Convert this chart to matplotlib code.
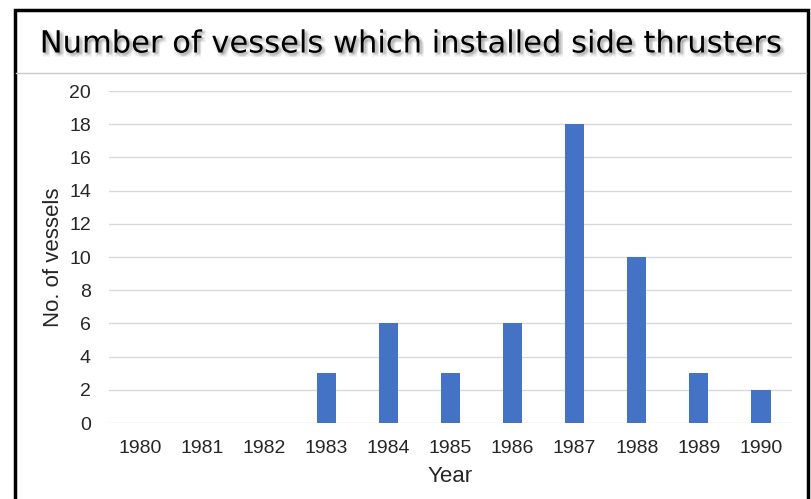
import numpy as np
import matplotlib
matplotlib.use('Agg')
import matplotlib.pyplot as plt
import matplotlib.patheffects as pe
from matplotlib.patches import Rectangle
from matplotlib.lines import Line2D

years = ['1980', '1981', '1982', '1983', '1984', '1985', '1986', '1987', '1988', '1989', '1990']
vessels = [0, 0, 0, 3, 6, 3, 6, 18, 10, 3, 2]
yticks = [0, 2, 4, 6, 8, 10, 12, 14, 16, 18, 20]

plt.rcParams['font.family'] = ['Liberation Sans', 'DejaVu Sans']

fig = plt.figure(figsize=(8.11, 4.99), dpi=100)
fig.patch.set_facecolor('white')

# frame round the whole chart
fig.patches.append(Rectangle((14.5/811, -0.05), 793/811, 1 - 9.5/499 + 0.05,
                             transform=fig.transFigure, fill=False,
                             edgecolor='black', linewidth=2.5))
# line under title
fig.lines.append(Line2D([16/811, 806/811], [1 - 73/499, 1 - 73/499],
                        transform=fig.transFigure, color='#c8c8c8', linewidth=1))

# soft glow behind the title
glow = []
for dx, dy in [(1, -1), (2, -2), (3, -3), (2, -1), (1, -2), (3, -1), (0, -3)]:
    glow.append(pe.SimplePatchShadow(offset=(dx, dy), shadow_rgbFace='#707070', alpha=0.12))
glow.append(pe.Normal())
fig.text(0.506, 1 - 44/499, 'Number of vessels which installed side thrusters',
         ha='center', va='center', fontsize=22, family='DejaVu Sans',
         color='black', path_effects=glow)

ax = fig.add_axes([109/811, 1 - 423/499, 683/811, 332/499])
x = np.arange(len(years))
ax.bar(x, vessels, width=0.31, color='#4472C4', zorder=3)
ax.set_xlim(-0.5, len(years) - 0.5)
ax.set_ylim(0, 20)
ax.set_yticks(yticks)
ax.set_xticks(x)
ax.set_xticklabels(years)
ax.grid(axis='y', color='#d9d9d9', linewidth=1, zorder=0)
for s in ax.spines.values():
    s.set_visible(False)
ax.tick_params(length=0, labelsize=14, colors='#262626')
ax.tick_params(axis='x', pad=12)
ax.tick_params(axis='y', pad=13)
ax.set_xlabel('Year', fontsize=16, color='#262626', labelpad=7)
ax.set_ylabel('No. of vessels', fontsize=16, color='#262626', labelpad=4)

plt.savefig('out.png', dpi=100)
